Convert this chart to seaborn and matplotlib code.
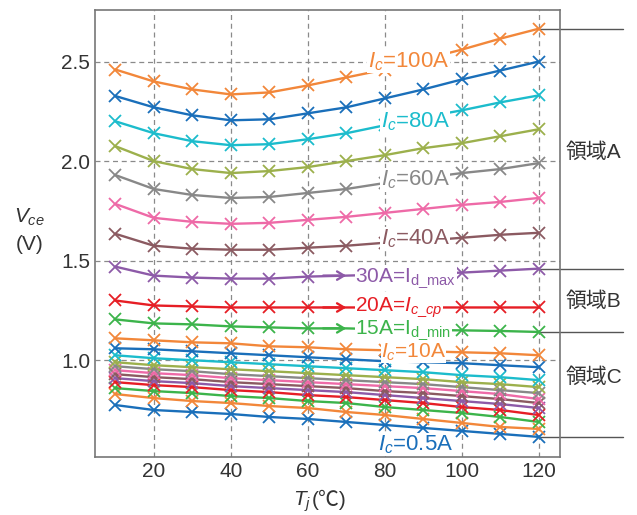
import matplotlib
matplotlib.use("Agg")
import matplotlib.pyplot as plt
import seaborn as sns

# junction temperature (degC)
temps = [10, 20, 30, 40, 50, 60, 70, 80, 90, 100, 110, 120]

# Vce (V) for each collector current
vce_100A = [2.46, 2.40, 2.36, 2.335, 2.345, 2.38, 2.42, 2.46, 2.51, 2.56, 2.615, 2.665]
vce_90A = [2.327, 2.27, 2.23, 2.205, 2.21, 2.24, 2.27, 2.315, 2.36, 2.41, 2.455, 2.50]
vce_80A = [2.20, 2.14, 2.10, 2.08, 2.085, 2.11, 2.14, 2.18, 2.22, 2.255, 2.295, 2.33]
vce_70A = [2.075, 2.0, 1.96, 1.94, 1.95, 1.97, 2.0, 2.03, 2.065, 2.09, 2.125, 2.16]
vce_60A = [1.93, 1.86, 1.83, 1.815, 1.82, 1.84, 1.86, 1.89, 1.915, 1.94, 1.96, 1.99]
vce_50A = [1.785, 1.715, 1.695, 1.685, 1.69, 1.705, 1.72, 1.74, 1.76, 1.78, 1.795, 1.815]
vce_40A = [1.635, 1.575, 1.56, 1.555, 1.555, 1.565, 1.575, 1.59, 1.60, 1.615, 1.63, 1.64]
vce_30A = [1.47, 1.425, 1.415, 1.41, 1.41, 1.42, 1.425, 1.43, 1.435, 1.44, 1.45, 1.46]
vce_20A = [1.30, 1.275, 1.27, 1.265, 1.265, 1.265, 1.265, 1.265, 1.265, 1.265, 1.265, 1.265]
vce_15A = [1.205, 1.185, 1.18, 1.17, 1.165, 1.16, 1.16, 1.155, 1.152, 1.15, 1.147, 1.142]
vce_10A = [1.11, 1.10, 1.09, 1.085, 1.07, 1.065, 1.055, 1.05, 1.045, 1.04, 1.035, 1.025]
# unlabeled curves between 0.5A and 10A (bottom -> top)
vce_low10 = [1.06, 1.055, 1.045, 1.035, 1.025, 1.015, 1.005, 0.995, 0.99, 0.985, 0.975, 0.965]
vce_low9 = [1.025, 1.01, 1.0, 0.99, 0.98, 0.97, 0.96, 0.95, 0.94, 0.925, 0.915, 0.90]
vce_low8 = [0.99, 0.975, 0.965, 0.955, 0.945, 0.935, 0.925, 0.915, 0.905, 0.89, 0.88, 0.865]
vce_low7 = [0.97, 0.955, 0.945, 0.93, 0.92, 0.91, 0.90, 0.89, 0.88, 0.865, 0.85, 0.835]
vce_low6 = [0.95, 0.935, 0.925, 0.91, 0.90, 0.89, 0.88, 0.87, 0.86, 0.845, 0.83, 0.805]
vce_low5 = [0.93, 0.915, 0.905, 0.89, 0.88, 0.87, 0.86, 0.845, 0.835, 0.82, 0.805, 0.785]
vce_low4 = [0.91, 0.895, 0.885, 0.87, 0.86, 0.85, 0.84, 0.825, 0.81, 0.795, 0.78, 0.76]
vce_low3 = [0.89, 0.875, 0.865, 0.85, 0.84, 0.825, 0.815, 0.80, 0.785, 0.765, 0.75, 0.725]
vce_low2 = [0.86, 0.845, 0.835, 0.82, 0.81, 0.795, 0.785, 0.765, 0.75, 0.735, 0.715, 0.69]
vce_low1 = [0.83, 0.81, 0.795, 0.785, 0.77, 0.76, 0.74, 0.725, 0.705, 0.685, 0.665, 0.655]
vce_05A = [0.775, 0.75, 0.74, 0.73, 0.715, 0.705, 0.69, 0.675, 0.66, 0.645, 0.63, 0.615]

xticks = [20, 40, 60, 80, 100, 120]
yticks = [1.0, 1.5, 2.0, 2.5]
ytick_labels = ["1.0", "1.5", "2.0", "2.5"]

palette = ["#1a6fba", "#f2873a", "#3cb44b", "#e61e25", "#8d5aa8",
           "#8b5a61", "#ee6aa7", "#888888", "#9cb04c", "#1cbccc"]

# bottom -> top, colours cycle through the palette
series = [vce_05A, vce_low1, vce_low2, vce_low3, vce_low4, vce_low5, vce_low6,
          vce_low7, vce_low8, vce_low9, vce_low10, vce_10A, vce_15A, vce_20A,
          vce_30A, vce_40A, vce_50A, vce_60A, vce_70A, vce_80A, vce_90A, vce_100A]
arrow_series = [vce_15A, vce_20A, vce_30A]

sns.set_style("white")
plt.rcParams['font.family'] = ['Liberation Sans', 'Noto Sans CJK JP']
plt.rcParams['mathtext.fontset'] = 'custom'
plt.rcParams['mathtext.it'] = 'Liberation Sans:italic'
plt.rcParams['mathtext.rm'] = 'Liberation Sans'

fig, ax = plt.subplots(figsize=(6.37, 5.15), dpi=100)
fig.subplots_adjust(left=0.149, right=0.879, bottom=0.113, top=0.981)

for i, vals in enumerate(series):
    c = palette[i % 10]
    every = [k for k in range(len(temps)) if k != 6] if any(vals is s for s in arrow_series) else None
    sns.lineplot(x=temps, y=vals, color=c, marker="x", markersize=8,
                 markeredgewidth=1.3, markeredgecolor=c, linewidth=1.7,
                 markevery=every, ax=ax, zorder=3)
    if every is not None:
        ax.annotate("", xy=(temps[6], vals[6]), xytext=(temps[6] - 6, vals[6]),
                    arrowprops=dict(arrowstyle="->,head_length=0.5,head_width=0.3",
                                    color=c, lw=1.7, shrinkA=0, shrinkB=0), zorder=4)

# curve labels (white box hides the line behind them)
labels = [
    (75.6, 2.50, "$I_c$=100A", palette[1], 16),
    (79.0, 2.197, "$I_c$=80A", palette[9], 16),
    (79.0, 1.905, "$I_c$=60A", palette[7], 16),
    (79.0, 1.608, "$I_c$=40A", palette[5], 16),
    (72.3, 1.41, "30A=I$_{\\mathrm{d\\_max}}$", palette[4], 15),
    (72.3, 1.266, "20A=$I_{c\\_cp}$", palette[3], 15),
    (72.3, 1.153, "15A=I$_{\\mathrm{d\\_min}}$", palette[2], 15),
    (79.0, 1.040, "$I_c$=10A", palette[1], 15),
    (78.2, 0.578, "$I_c$=0.5A", palette[0], 16),
]
for k, (x, y, s, c, fs) in enumerate(labels):
    ax.text(x, y, s, color=c, fontsize=fs, ha="left", va="center",
            bbox=dict(facecolor="white", edgecolor="none", pad=0.3), zorder=6 - k * 0.05)

# region markers on the right
for y in [vce_100A[-1], vce_30A[-1], vce_15A[-1], vce_05A[-1]]:
    ax.plot([120, 141.8], [y, y], color="#555555", lw=1, clip_on=False, zorder=2)
for y, s in [(2.045, "領域A"), (1.295, "領域B"), (0.915, "領域C")]:
    ax.text(134.3, y, s, fontsize=15, color="#333333", ha="center", va="center")

ax.set_xlim(4.7, 125.5)
ax.set_ylim(0.515, 2.76)
ax.set_xticks(xticks)
ax.set_yticks(yticks, ytick_labels)
ax.set_xlabel("")
ax.set_ylabel("")
ax.tick_params(direction="in", length=4, labelsize=15, labelcolor="#333333", color="#666666")
ax.grid(True, linestyle=(0, (4, 3)), color="#8a8a8a", linewidth=0.9)
ax.set_axisbelow(True)
for sp in ax.spines.values():
    sp.set_color("#777777")
    sp.set_linewidth(1.2)
    sp.set_zorder(7)

fig.text(0.0455, 0.567, "$V_{ce}$", fontsize=15, color="#333333", ha="center", va="baseline")
fig.text(0.047, 0.515, "(V)", fontsize=15, color="#333333", ha="center", va="baseline")
fig.text(0.488, 0.0175, "$T_j$", fontsize=15, color="#333333", ha="right", va="baseline")
fig.text(0.489, 0.0175, "(℃)", fontsize=15, color="#333333", ha="left", va="baseline")

fig.savefig("out.png", dpi=100)
